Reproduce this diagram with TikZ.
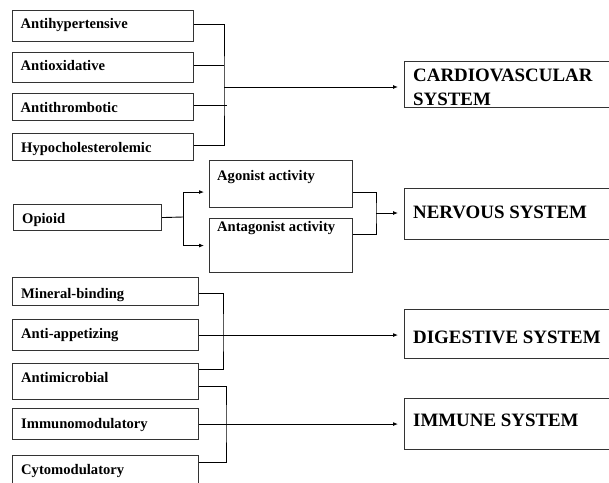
\documentclass[tikz,border=0pt]{standalone}
\usepackage{fontspec}
\setmainfont{Liberation Serif}
\usetikzlibrary{arrows.meta}
\begin{document}
\begin{tikzpicture}[x=1pt,y=-1pt,
  box/.style={draw=black!80, line width=1.1pt, inner sep=0pt, anchor=north west},
  sm/.style={font=\fontsize{14.6}{16}\selectfont\bfseries, anchor=base west, inner sep=0pt},
  big/.style={font=\fontsize{18.9}{24}\selectfont\bfseries, anchor=base west, inner sep=0pt},
  ln/.style={line width=0.9pt},
  arr/.style={line width=0.9pt, -{Latex[length=5pt,width=4pt]}}]
\useasboundingbox (0,0) rectangle (609,482);
% boxes
\node[box, minimum width=181pt, minimum height=31pt] (ah) at (12,10) {};
\node[box, minimum width=181pt, minimum height=30pt] (ao) at (12,52) {};
\node[box, minimum width=181pt, minimum height=27pt] (at) at (12,93) {};
\node[box, minimum width=181pt, minimum height=27pt] (hc) at (12,133) {};
\node[box, minimum width=148pt, minimum height=26pt] (op) at (13,204) {};
\node[box, minimum width=143pt, minimum height=47pt] (ag) at (209,160) {};
\node[box, minimum width=143pt, minimum height=54pt] (an) at (209,218) {};
\node[box, minimum width=215pt, minimum height=46pt] (cv) at (404,61) {};
\node[box, minimum width=215pt, minimum height=51pt] (nv) at (404,188) {};
\node[box, minimum width=186pt, minimum height=28pt] (mb) at (12,277) {};
\node[box, minimum width=186pt, minimum height=31pt] (aa) at (12,319) {};
\node[box, minimum width=186pt, minimum height=36pt] (am) at (12,363) {};
\node[box, minimum width=186pt, minimum height=31pt] (im) at (12,408) {};
\node[box, minimum width=186pt, minimum height=40pt] (cy) at (12,455) {};
\node[box, minimum width=215pt, minimum height=49pt] (dg) at (404,309) {};
\node[box, minimum width=215pt, minimum height=51pt] (iu) at (404,398) {};
% texts
\node[sm] (tah) at (20.5,28.5) {Antihypertensive};
\node[sm] (tao) at (20.5,70) {Antioxidative};
\node[sm] (tat) at (20.5,112) {Antithrombotic};
\node[sm] (thc) at (21,152) {Hypocholesterolemic};
\node[sm] (top) at (22,223) {Opioid};
\node[sm] (tag) at (217,180) {Agonist activity};
\node[sm] (tan) at (217,231) {Antagonist activity};
\node[sm] (tmb) at (21,298) {Mineral-binding};
\node[sm] (taa) at (21,338) {Anti-appetizing};
\node[sm] (tam) at (21,382) {Antimicrobial};
\node[sm] (tim) at (21,428) {Immunomodulatory};
\node[sm] (tcy) at (21,474) {Cytomodulatory};
\node[big] (tcv1) at (413,81) {CARDIOVASCULAR};
\node[big] (tcv2) at (413,105) {SYSTEM};
\node[big] (tnv) at (413,218) {NERVOUS SYSTEM};
\node[big] (tdg) at (413,343) {DIGESTIVE SYSTEM};
\node[big] (tiu) at (413,426) {IMMUNE SYSTEM};
% junctions
\coordinate (j1) at (224,87);
\coordinate (j2) at (183,217);
\coordinate (j3) at (376,213);
\coordinate (j4) at (223,334);
\coordinate (j5) at (226,423);
% cardiovascular
\draw[ln] ([yshift=1.5pt]ah.east) -| (j1) |- ([yshift=2pt]hc.east);
\draw[ln] ([yshift=2pt]ao.east) -- ([yshift=2pt]ao.east -| j1);
\draw[ln] ([yshift=2pt]at.east) -- ([xshift=3pt,yshift=2pt]at.east -| j1);
\draw[arr] (j1) -- ([xshift=-6pt]cv.west |- j1);
% opioid
\draw[ln] (op.east) -- (j2);
\draw[arr] (j2) |- ([xshift=-5pt,yshift=-8pt]ag.west);
\draw[arr] (j2) |- ([xshift=-5pt]an.west);
% nervous
\draw[ln] ([yshift=-8pt]ag.east) -| (j3) |- ([yshift=11pt]an.east);
\draw[arr] (j3) -- ([xshift=-6pt]nv.west |- j3);
% digestive
\draw[ln] ([yshift=-2pt]mb.east) -| (j4) |- ([yshift=-6pt]am.north east);
\draw[arr] (aa.east) -- ([xshift=-6pt]dg.west |- aa.east);
% immune
\draw[ln] ([yshift=-23pt]am.north east) -| (j5) |- ([yshift=-7pt]cy.north east);
\draw[arr] (im.east) -- ([xshift=-6pt]iu.west |- im.east);
\end{tikzpicture}
\end{document}
